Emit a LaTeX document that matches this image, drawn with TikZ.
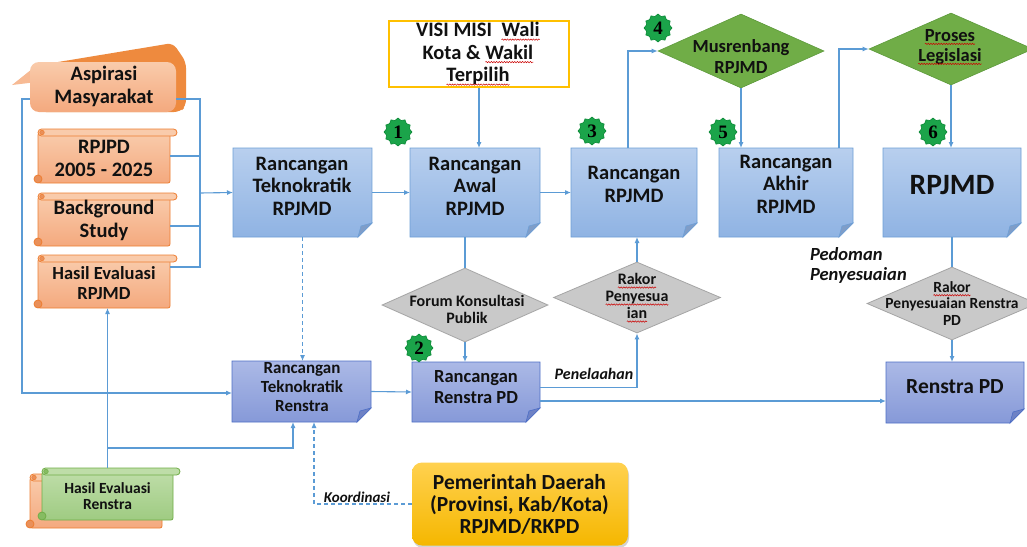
\documentclass[tikz,border=0pt]{standalone}
\usepackage{fontspec}
\setmainfont{Carlito}
\newfontfamily\numfont{Liberation Serif}
\usetikzlibrary{arrows.meta,shapes.geometric,decorations.pathmorphing,shadows,calc}

\definecolor{ln}{HTML}{5B9BD5}
\definecolor{topT}{HTML}{B8CFEE}\definecolor{topB}{HTML}{8FB3E3}\definecolor{topD}{HTML}{6E9FD6}\definecolor{topF}{HTML}{7F9DC8}
\definecolor{lowT}{HTML}{ABB9E6}\definecolor{lowB}{HTML}{8699D8}\definecolor{lowD}{HTML}{4E6FC6}\definecolor{lowF}{HTML}{6E82C5}
\definecolor{grnD}{HTML}{70AD47}\definecolor{grnB}{HTML}{5C9A3A}
\definecolor{gryD}{HTML}{C9C9C9}\definecolor{gryB}{HTML}{A5A5A5}
\definecolor{oT}{HTML}{F9CBAB}\definecolor{oB}{HTML}{F4A97E}\definecolor{oD}{HTML}{ED7D31}\definecolor{oK}{HTML}{E9905A}
\definecolor{gT}{HTML}{BEDDA8}\definecolor{gB}{HTML}{9FCB82}\definecolor{gD}{HTML}{70AD47}\definecolor{gK}{HTML}{86BC62}
\definecolor{yT}{HTML}{FFD14F}\definecolor{yB}{HTML}{F5B700}
\definecolor{bG}{HTML}{1BA44A}\definecolor{bD}{HTML}{0B8A37}
\definecolor{vmB}{HTML}{FFC000}
\definecolor{txc}{HTML}{111111}
\definecolor{aspK}{HTML}{EE8A3E}

\newcommand\wavy[1]{\tikz[baseline=(ww.base),x=1pt,y=1pt]{\node[inner sep=0pt,outer sep=0pt](ww){#1};\draw[red!80!black,line width=0.5pt,decorate,decoration={snake,amplitude=0.7pt,segment length=2.6pt}]([yshift=-2.8pt]ww.base west)--([yshift=-2.8pt]ww.base east);}}

\newcommand\docbox[6]{%
 \node[inner sep=0,outer sep=0,minimum width=#4,minimum height=#5] (#1) at (#2,#3) {};
 \shade[top color=#6T,bottom color=#6B,draw=#6D,line width=0.9pt] (#1.north west) -- (#1.north east) -- ([yshift=14pt]#1.south east) -- ([xshift=-14pt]#1.south east) -- (#1.south west) -- cycle;
 \path[fill=#6F,draw=#6D,line width=0.6pt] ([yshift=14pt]#1.south east) -- ([xshift=-14pt]#1.south east) -- ([xshift=-11pt,yshift=11pt]#1.south east) -- cycle;
}
\newcommand\scrollbox[6]{%
 \shade[top color=#6T,bottom color=#6B,draw=#6D,line width=0.8pt,rounded corners=2pt] (#2,#3+4) rectangle (#4,#5);
 \shade[top color=#6T,bottom color=#6T,draw=#6D,line width=0.8pt,rounded corners=3.5pt] (#2,#3) rectangle (#4+7,#3+7);
 \path[fill=#6K,draw=#6D,line width=0.5pt] (#2+4,#3+3.5) circle (2.3pt);
 \path[fill=#6K,draw=#6D,line width=0.8pt] (#2,#5-4) circle (4pt);
 \node[inner sep=0,outer sep=0,minimum width={#4-#2},minimum height={#5-#3}] (#1) at ({(#2+#4)/2},{(#3+#5)/2}) {};
}

\begin{document}
\begin{tikzpicture}[x=1pt,y=-1pt,
  ln/.style={draw=ln,line width=1.1pt},
  arr/.style={ln,-{Latex[length=6pt,width=5pt]}},
  tx/.style={align=center,inner sep=0,outer sep=0,text=txc},
  fA/.style={tx,font=\bfseries\fontsize{20.5}{22.5}\selectfont},
  fB/.style={tx,font=\bfseries\fontsize{18.5}{20.5}\selectfont},
  fC/.style={tx,font=\bfseries\fontsize{16}{17}\selectfont},
  fD/.style={tx,font=\bfseries\fontsize{17}{19}\selectfont},
  fI/.style={tx,font=\bfseries\itshape\fontsize{16}{20}\selectfont},
  dmG/.style={diamond,fill=grnD,draw=grnB,line width=0.6pt,inner sep=0},
  dmY/.style={diamond,fill=gryD,draw=gryB,line width=0.8pt,inner sep=0},
  badge/.style={star,star points=12,star point ratio=1.18,fill=bG,draw=bD,line width=0.6pt,minimum size=28pt,inner sep=0,text=black,font=\numfont\bfseries\fontsize{19}{19}\selectfont}
]
\useasboundingbox (0,0) rectangle (1027,546);
\clip (0,0) rectangle (1027,546);
\fill[white] (0,0) rectangle (1027,546);

% ---------- left inputs ----------
\path[fill=aspK,rounded corners=6pt] (34,66) -- (173,43) -- (186,62) -- (186,106) -- (180,112) -- (40,112) -- cycle;
\fill[oT!50!oB] (12,85) -- (37,65) -- (37,82) -- cycle;
\node[top color=oT,bottom color=oB,rounded corners=9pt,minimum width=146,minimum height=50,inner sep=0,outer sep=0] (asp) at (103,87) {};
\node[fA] (aspT) at (104,86.5) {Aspirasi\\Masyarakat};

\scrollbox{s1}{38}{129}{170}{183}{o}
\node[fA] (s1T) at (104,158.5) {RPJPD\\2005 - 2025};
\scrollbox{s2}{38}{193}{170}{246}{o}
\node[fA] (s2T) at (104,220.5) {Background\\Study};
\scrollbox{s3}{38}{255}{170}{308}{o}
\node[fB] (s3T) at (104,283) {Hasil Evaluasi\\RPJMD};

\scrollbox{s4o}{30}{474}{162}{528}{o}
\scrollbox{s4}{42}{468}{173}{520}{g}
\node[tx,font=\bfseries\fontsize{15.5}{16.5}\selectfont] (s4T) at (107.5,496) {Hasil Evaluasi\\Renstra};

% ---------- top row ----------
\node[draw=vmB,fill=white,line width=1.2pt,minimum width=180,minimum height=66,inner sep=0] (vm) at (479,54) {};
\node[fA] (vmT) at (478,54) {VISI MISI\ \ \wavy{Wali}\\Kota \& \wavy{Wakil}\\\wavy{Terpilih}};

\docbox{tk}{302.5}{192.5}{139}{89}{top}
\node[fA] (tkT) at (302,186) {Rancangan\\Teknokratik\\RPJMD};
\docbox{aw}{475}{192.5}{130}{89}{top}
\node[fA] (awT) at (475,186) {Rancangan\\Awal\\RPJMD};
\docbox{rr}{634}{192.5}{126}{89}{top}
\node[fA] (rrT) at (634,184.5) {Rancangan\\RPJMD};
\docbox{ak}{786}{192.5}{134}{89}{top}
\node[fA] (akT) at (786,184) {Rancangan\\Akhir\\RPJMD};
\docbox{rp}{952}{192.5}{138}{89}{top}
\node[tx,font=\bfseries\fontsize{29.5}{30}\selectfont] (rpT) at (952,185) {RPJMD};

\node[dmG,minimum width=166,minimum height=74] (mus) at (741,51) {};
\node[fB] (musT) at (741,56.5) {Musrenbang\\RPJMD};
\node[dmG,minimum width=164,minimum height=72] (pl) at (951,49) {};
\node[tx,font=\bfseries\fontsize{18.5}{20}\selectfont] (plT) at (950,47) {\wavy{Proses}\\\wavy{Legislasi}};

% ---------- middle ----------
\node[dmY,minimum width=166,minimum height=74] (fk) at (465,305) {};
\node[fC] (fkT) at (467,309.5) {Forum Konsultasi\\Publik};
\node[dmY,minimum width=167,minimum height=71] (rk) at (637,297.5) {};
\node[fC] (rkT) at (637,298) {\wavy{Rakor}\\\wavy{Penyesua}\\\wavy{ian}};
\node[dmY,minimum width=170,minimum height=73] (rk2) at (952,303.5) {};
\node[tx,font=\bfseries\fontsize{15.5}{16.5}\selectfont] (rk2T) at (952,303.5) {\wavy{Rakor}\\Penyesuaian Renstra\\PD};

\node[tx,anchor=west,align=left,font=\bfseries\itshape\fontsize{18.5}{20}\selectfont] (pedT) at (810,265) {Pedoman\\Penyesuaian};

% ---------- lower row ----------
\docbox{tr}{301.5}{391.5}{139}{61}{low}
\node[fD] (trT) at (302,387) {Rancangan\\Teknokratik\\Renstra};
\docbox{rp2}{476}{392}{128}{60}{low}
\node[fB] (rp2T) at (476,387) {Rancangan\\Renstra PD};
\docbox{rs}{955}{392.5}{138}{61}{low}
\node[tx,font=\bfseries\fontsize{21.5}{22}\selectfont] (rsT) at (955,387) {Renstra PD};

\node[top color=yT,bottom color=yB,rounded corners=10pt,minimum width=216,minimum height=83,inner sep=0,
  drop shadow={opacity=0.35,shadow xshift=1pt,shadow yshift=-2.5pt}] (py) at (520,504) {};
\node[tx,font=\bfseries\fontsize{21.5}{22}\selectfont] (pyT) at (519.5,504) {Pemerintah Daerah\\(Provinsi, Kab/Kota)\\RPJMD/RKPD};

\node[fI] (penT) at (594,374) {Penelaahan};
\node[tx,font=\bfseries\itshape\fontsize{15}{16}\selectfont] (koT) at (357,497) {Koordinasi};

% ---------- badges ----------
\node[badge] (b1) at (398,132) {1};
\node[badge] (b2) at (419,348) {2};
\node[badge] (b3) at (592,131) {3};
\node[badge] (b4) at (658,28) {4};
\node[badge] (b5) at (723,132) {5};
\node[badge] (b6) at (933,132) {6};

% ---------- connectors ----------
\draw[ln] (asp.east |- 0,99) -- (200,99) -- (200,267) -- (s3.east |- 0,267);
\draw[ln] (s1.east |- 0,156) -- (200,156);
\draw[ln] (s2.east |- 0,226) -- (200,226);
\coordinate (bus) at (200,193);
\draw[arr] (bus) -- (tk.west);
\draw[arr] (asp.west |- 0,99) -- (22,99) -- (22,393) -- (tr.west |- 0,393);

\draw[arr] (s4.north) -- (s4.north |- s3.south);
\draw[arr] (s4.north |- 0,448) -- (293,448) -- ([xshift=-8.5pt]tr.south);
\draw[arr,dash pattern=on 4pt off 3pt] (py.west) -- (314,504) -- ([xshift=12.5pt]tr.south);
\draw[arr,dash pattern=on 4pt off 3pt] (tk.south) -- (tk.south |- tr.north);

\draw[arr] (tk.east) -- (aw.west);
\draw[arr] (aw.east) -- (rr.west);
\draw[arr] (vm.south) -- (vm.south |- aw.north);
\draw[ln] ([xshift=-10pt]aw.south) -- (fk.north);
\draw[arr] (fk.south) -- (fk.south |- rp2.north);
\draw[arr] (tr.east) -- (rp2.west);

\coordinate (r2a) at ([yshift=4.5pt]rp2.east);
\draw[arr] (r2a) -- (r2a -| rk.south) -- (rk.south);
\coordinate (r2b) at ([yshift=-9pt]rp2.east);
\draw[arr] (r2b) -- (r2b -| rs.west);
\draw[arr] (rk.north) -- (rk.north |- rr.south);

\draw[arr] ([xshift=-6pt]rr.north) |- (mus.west);
\draw[arr] (mus.south) -- (mus.south |- ak.north);
\draw[arr] ([xshift=53pt]ak.north) |- (pl.west);
\draw[arr] (pl.south) -- (pl.south |- rp.north);
\draw[ln] (rp.south) -- (rk2.north);
\draw[arr] (rk2.south) -- (rk2.south |- rs.north);
\end{tikzpicture}
\end{document}
